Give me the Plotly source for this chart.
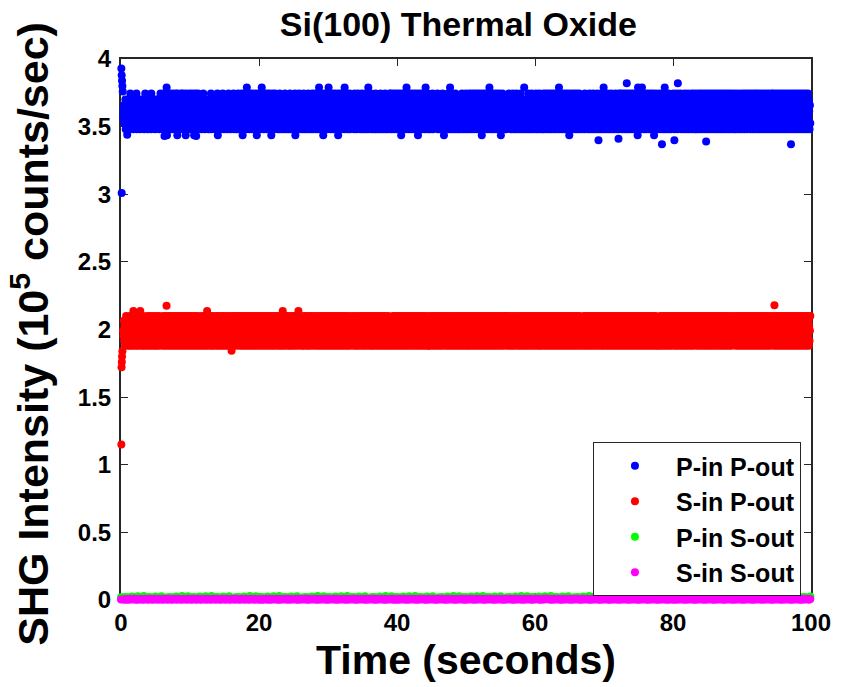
import numpy as np
import plotly.graph_objects as go

# ---------------------------------------------------------------------------
# SHG intensity readings (10^5 counts/sec) over a 100 s run.
# Bulk readings are stored one character per sample: value = base + step * digit.
# ---------------------------------------------------------------------------
P_IN_P_OUT_BASE, P_IN_P_OUT_STEP = 3.392, 0.0442
P_IN_P_OUT_CODES = (
    "4563547253645736452846375462537465382645736452746354637254863745265473645283746537462537465374625384"
    "5746352847365291736458273645283746572836451827364572836458273645182736457283645728364517283645728364"
    "5364725463857426354637452635748263547365427356481635473625473856274635472635847362547365482735462537"
    "3827465372846152738465729384657283465728346572834615728346572839465728346572834657283465172834657283"
    "6354725364827354637254638275463725463827546372546381725463745826354736254837264537462853746253748265"
    "6473825647382956473825641738256473825694738256473825647382564731825647382564738295647382564738256473"
    "3746528374652738465372645837264537284653729465374826354726453827465372645382746537264583726453726485"
    "4582736458273645827364582736145827364582739645827364582736458273645827361458273645827364582793645827"
    "4635274653827463557463582746352746358274136527463582746392746835274635827466352746352748356274635827"
    "7364528736452873645287364528736452873641528736452873645287396452873645287364528736452873614528736452"
    "5372645374846537264583726453728465372645387264537294653726453872645372846537264538726453728465372645"
    "2846573284657328465732846573284657328465793284657328465732846573284615732846573284657328465732846573"
    "2647354628374653726458372645372846537264583726453728465372946537264583726453728465372645387264537284"
    "5638472563847256384725638472563847256384725638419256384725638472563847256384725638472563841725638472"
    "5647382564735264837256473562847365243756483726543786253647385264735624837562473856243756382475638245"
    "4275836427583642758364275836427583642758364275836427583642758364275836427583642758364275836427583642"
    "3658247365482736547283654728365472836547382654738265473826547836254783625478362547836254783625473862"
    "6384752638475263847526384752638475263847526384752638475263847526384752638475263847526384752638475263"
)
# start-up transient and isolated readings outside the main band
P_IN_P_OUT_EXTRA_T = [0.05, 0.1, 0.15, 0.2, 0.25, 0.1, 0.9, 6.3, 10.9, 69.2, 72.1, 73.3, 75.5,
                      78.4, 78.8, 80.2, 80.7, 84.8, 97.1]
P_IN_P_OUT_EXTRA_V = [3.93, 3.88, 3.84, 3.80, 3.76, 3.01, 3.44, 3.43, 3.43, 3.40, 3.41, 3.82, 3.79,
                      3.37, 3.79, 3.40, 3.82, 3.39, 3.37]

S_IN_P_OUT_BASE, S_IN_P_OUT_STEP = 1.807, 0.0367
S_IN_P_OUT_CODES = (
    "5473625384736254738265473829465372846537264859372645382746537264853726458372645837264538276453827465"
    "4637285463728546372854637285463728546372854637285463728546372854637285463728546372854637285463728546"
    "3627458362745836274593627445836274583267453862745836274538627458362745836274583627451836274583627458"
    "5836274583627458362745836274583627458362745836274583627458362745836274583627458362745836274583627458"
    "6452837465283746529374652837465823746528734652837465283476592837465823746528374658237465283746582374"
    "3748256374825637482563748256374825637482563748256374825637482563748256374825637482563748256374825637"
    "4738265437826547328654783265473826574382654738625473826547832654738265743826547382657438265473826547"
    "6254738625473862547386254738625473862547386254738625473862547386254738625473862547386254738625473862"
    "5264738526437852647385264378526473825647385264738526473852647835264738526473582647385264738526437852"
    "4863725486372548637254863725486372548637254863725486372548637254863725486372548637254863725486372548"
    "3845627384562783456273845267384562738456273485627384562738456273845627384562783456273845627384526738"
    "5372846537284653728465372846537284653728465372846537284653728465372846537284653728465372846537284653"
    "7263548726354872653487263548726354872635487263548762354872635487263548726534872635487263548726354872"
    "7458362745836274583627458362745836274583627458362745836274583627458362745836274583627458362745836274"
    "4527368452736845273684527368452736845273684572368452736845273684527368452736845273864527368452736845"
    "3628475362847536284753628475362847536284753628475362847536284753628475362847536284753628475362847536"
    "5386274538627453862745386274538627453862745386274538627453862745386274538627453862745386274538627453"
    "5847263584726358472635847263584726358472635847263584726358472635847263584726358472635847263584726358"
)
S_IN_P_OUT_EXTRA_T = [0.05, 0.08, 0.12, 0.15, 0.2, 6.6, 94.7]
S_IN_P_OUT_EXTRA_V = [1.15, 1.72, 1.76, 1.80, 1.84, 2.175, 2.18]

P_IN_S_OUT_BASE, P_IN_S_OUT_STEP = 0.011, 0.002
P_IN_S_OUT_CODES = (
    "5647382956473825647392856473829564738256473928564738295647382564739285647382956473825647392856473829"
    "5647382564739285647382956473825647392856473829564738256473928564738295647382564739285647382956473825"
    "6473928564738295647382564739285647"
)

S_IN_S_OUT_BASE, S_IN_S_OUT_STEP = -0.002, 0.0015
S_IN_S_OUT_CODES = (
    "4536274583627453862745386274538627453862745386274538627453862745386274538627453862745386274538627453"
    "6354827364582736458273645827364582736458273645827364582736458273645827364582736458273645827364582736"
    "2745836274583627458362745836274583627458362745836274583627458362745836274583627458362745836274583627"
    "5836274958362745836274583627458362745836274583627458362745836274583627458362745836274583627458362745"
    "3627458362745836274583627458362745836274583627458362745836274583627458362745836274583627458362745836"
)

SERIES_NAMES = ["P-in P-out", "S-in P-out", "P-in S-out", "S-in S-out"]
SERIES_COLORS = ["#0000FF", "#FF0000", "#00FF00", "#FF00FF"]

X_TICKS = [0, 20, 40, 60, 80, 100]
Y_TICKS = [0, 0.5, 1, 1.5, 2, 2.5, 3, 3.5, 4]


def decode(codes, base, step):
    return base + step * np.array([int(c) for c in codes], dtype=float)


def sample_times(n):
    # readings are taken at a steady rate across the run
    return np.linspace(0.3, 99.9, n)


series = []
for codes, base, step, ext_t, ext_v in [
    (P_IN_P_OUT_CODES, P_IN_P_OUT_BASE, P_IN_P_OUT_STEP, P_IN_P_OUT_EXTRA_T, P_IN_P_OUT_EXTRA_V),
    (S_IN_P_OUT_CODES, S_IN_P_OUT_BASE, S_IN_P_OUT_STEP, S_IN_P_OUT_EXTRA_T, S_IN_P_OUT_EXTRA_V),
    (P_IN_S_OUT_CODES, P_IN_S_OUT_BASE, P_IN_S_OUT_STEP, [], []),
    (S_IN_S_OUT_CODES, S_IN_S_OUT_BASE, S_IN_S_OUT_STEP, [], []),
]:
    v = decode(codes, base, step)
    t = sample_times(len(v))
    t = np.concatenate([ext_t, t]) if ext_t else np.concatenate([[0.0], t])
    v = np.concatenate([ext_v, v]) if ext_v else np.concatenate([[v[0]], v])
    series.append((t, v))

FONT = "Liberation Sans, Arial, sans-serif"
AX_COLOR = "#262626"

fig = go.Figure()
for i, ((t, v), name, color) in enumerate(zip(series, SERIES_NAMES, SERIES_COLORS)):
    fig.add_trace(go.Scatter(
        x=t, y=v, mode="markers", name=name, legendgroup=f"g{i}",
        marker=dict(color=color, size=8, line=dict(width=0)),
        cliponaxis=False,
    ))

axis_common = dict(
    ticks="inside", ticklen=7, tickwidth=1, tickcolor=AX_COLOR,
    showline=True, linecolor=AX_COLOR, linewidth=2, mirror="ticks",
    showgrid=False, zeroline=False, layer="below traces",
    tickfont=dict(family=FONT, size=24, color="black", weight="bold"),
)

fig.update_layout(
    width=843, height=687,
    margin=dict(l=121, r=24, t=59, b=87),
    paper_bgcolor="white", plot_bgcolor="white",
    showlegend=True,
    title=dict(text="Si(100) Thermal Oxide", x=0.489, xref="paper", xanchor="center",
               y=1 - 24 / 687, yref="container", yanchor="middle",
               font=dict(family=FONT, size=34, color="black", weight="bold")),
    xaxis=dict(range=[0, 100], tickmode="array", tickvals=X_TICKS, **axis_common),
    yaxis=dict(range=[0, 4], tickmode="array", tickvals=Y_TICKS, ticklabelstandoff=3,
               **axis_common),
    legend=dict(x=0.684, y=0.292, xanchor="left", yanchor="top",
                bgcolor="white", bordercolor=AX_COLOR, borderwidth=1,
                traceorder="grouped", tracegroupgap=0, itemwidth=72,
                entrywidth=128, entrywidthmode="pixels",
                font=dict(family=FONT, size=25, color="black", weight="bold")),
    annotations=[
        dict(text="Time (seconds)", xref="paper", yref="paper", x=0.5, y=-0.11,
             xanchor="center", yanchor="middle", showarrow=False,
             font=dict(family=FONT, size=41, color="black", weight="bold")),
        dict(text="SHG Intensity (10<sup>5</sup> counts/sec)", xref="paper", yref="paper",
             x=-0.132, y=0.492, xanchor="center", yanchor="middle", textangle=-90,
             showarrow=False,
             font=dict(family=FONT, size=43, color="black", weight="bold")),
    ],
)

fig.write_html("out.html")
